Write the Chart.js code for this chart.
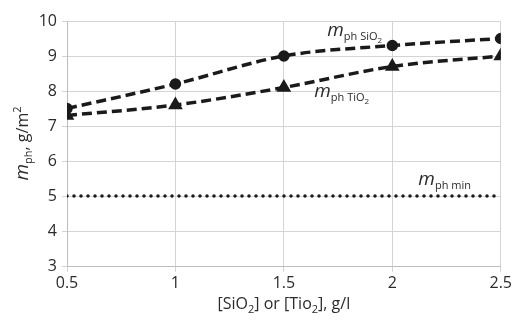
<!DOCTYPE html>
<html>
<head>
<meta charset="utf-8">
<script src="https://cdn.jsdelivr.net/npm/chart.js@4"></script>
<style>
    html, body { margin: 0; padding: 0; background: #fff; }
    #wrap { width: 514px; height: 321px; }
</style>
</head>
<body>
<div id="wrap"><canvas id="phChart" width="514" height="321"></canvas></div>
<script>
// concentrations, g/l
const concentrations = [0.5, 1, 1.5, 2, 2.5];
// photocatalyst mass, g/m2
const massSiO2 = [7.5, 8.2, 9.0, 9.3, 9.5];
const massTiO2 = [7.3, 7.6, 8.1, 8.7, 9.0];
const massMin = [5, 5, 5, 5, 5];

// series labels written on the plot, anchored at data coordinates [x, y]
const labelSiO2 = { at: [1.7, 9.57], sub: 'ph SiO', sub2: '2' };
const labelTiO2 = { at: [1.64, 7.83], sub: 'ph TiO', sub2: '2' };
const labelMin = { at: [2.12, 5.31], sub: 'ph min', sub2: '' };

const FONT = '"Open Sans", "Noto Sans", sans-serif';
const TEXT_COLOR = '#2b2b2b';

function toPoints(ys) {
    return concentrations.map((x, i) => ({ x: x, y: ys[i] }));
}

// draw a run of text pieces: {t, size, dy, italic}
function drawRuns(ctx, runs, x, y) {
    let cx = x;
    runs.forEach(r => {
        ctx.font = (r.italic ? 'italic ' : '') + r.size + 'px ' + FONT;
        ctx.fillText(r.t, cx, y + (r.dy || 0));
        cx += ctx.measureText(r.t).width;
    });
}

function runsWidth(ctx, runs) {
    let w = 0;
    runs.forEach(r => {
        ctx.font = (r.italic ? 'italic ' : '') + r.size + 'px ' + FONT;
        w += ctx.measureText(r.t).width;
    });
    return w;
}

const textPlugin = {
    id: 'richText',
    afterDraw(chart) {
        const ctx = chart.ctx;
        const xs = chart.scales.x;
        const ys = chart.scales.y;
        const area = chart.chartArea;
        ctx.save();
        ctx.fillStyle = TEXT_COLOR;
        ctx.textBaseline = 'alphabetic';
        ctx.textAlign = 'left';

        // series labels
        [labelSiO2, labelTiO2, labelMin].forEach(lb => {
            const px = xs.getPixelForValue(lb.at[0]);
            const py = ys.getPixelForValue(lb.at[1]);
            const runs = [
                { t: 'm', size: 19, italic: true },
                { t: lb.sub, size: 11, dy: 4 }
            ];
            if (lb.sub2) runs.push({ t: lb.sub2, size: 8, dy: 7 });
            drawRuns(ctx, runs, px, py);
        });

        // x axis title
        const xRuns = [
            { t: '[SiO', size: 16 }, { t: '2', size: 11, dy: 4 },
            { t: '] or [Tio', size: 16 }, { t: '2', size: 11, dy: 4 },
            { t: '], g/l', size: 16 }
        ];
        const xw = runsWidth(ctx, xRuns);
        drawRuns(ctx, xRuns, (area.left + area.right) / 2 - xw / 2, 309);

        // y axis title (rotated)
        const yRuns = [
            { t: 'm', size: 19, italic: true }, { t: 'ph', size: 11, dy: 4 },
            { t: ', g/m', size: 16 }, { t: '2', size: 11, dy: -7 }
        ];
        const yw = runsWidth(ctx, yRuns);
        ctx.translate(28, (area.top + area.bottom) / 2);
        ctx.rotate(-Math.PI / 2);
        drawRuns(ctx, yRuns, -yw / 2, 0);
        ctx.restore();
    }
};

const ctx = document.getElementById('phChart').getContext('2d');
const chart = new Chart(ctx, {
    type: 'line',
    data: {
        datasets: [
            {
                label: 'SiO2',
                data: toPoints(massSiO2),
                borderColor: '#1a1a1a',
                backgroundColor: '#1a1a1a',
                borderWidth: 3.5,
                borderDash: [10, 5],
                pointStyle: 'circle',
                pointRadius: 4,
                cubicInterpolationMode: 'monotone'
            },
            {
                label: 'TiO2',
                data: toPoints(massTiO2),
                borderColor: '#1a1a1a',
                backgroundColor: '#1a1a1a',
                borderWidth: 3.5,
                borderDash: [10, 5],
                pointStyle: 'triangle',
                pointRadius: 5,
                cubicInterpolationMode: 'monotone'
            },
            {
                label: 'min',
                data: toPoints(massMin),
                borderColor: '#1a1a1a',
                borderWidth: 3.5,
                borderDash: [0, 7],
                borderCapStyle: 'round',
                pointRadius: 0
            }
        ]
    },
    options: {
        responsive: false,
        animation: false,
        layout: { padding: { top: 21, right: 10, left: 0, bottom: 0 } },
        plugins: {
            legend: { display: false },
            tooltip: { enabled: false }
        },
        scales: {
            x: {
                type: 'linear',
                min: 0.5,
                max: 2.5,
                afterFit: (s) => { s.height = 55; },
                ticks: {
                    stepSize: 0.5,
                    color: TEXT_COLOR,
                    font: { family: FONT, size: 16 },
                    padding: 2,
                    callback: (v) => String(v)
                },
                grid: { color: '#d4d4d4', lineWidth: 1, tickLength: 6 },
                border: { color: '#bdbdbd' }
            },
            y: {
                min: 3,
                max: 10,
                afterFit: (s) => { s.width = 67; },
                ticks: {
                    stepSize: 1,
                    color: TEXT_COLOR,
                    font: { family: FONT, size: 16 },
                    padding: 5
                },
                grid: { color: '#d4d4d4', lineWidth: 1, tickLength: 5 },
                border: { color: '#bdbdbd' }
            }
        }
    },
    plugins: [textPlugin]
});
</script>
</body>
</html>
